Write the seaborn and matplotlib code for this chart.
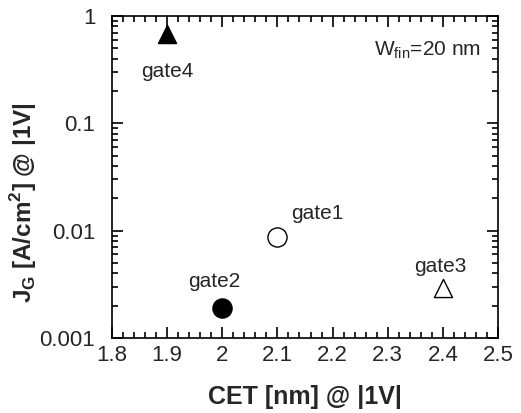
import seaborn as sns
import matplotlib.pyplot as plt
from matplotlib.ticker import FixedLocator, LogLocator, MultipleLocator, FuncFormatter

# data
gates = ['gate1', 'gate2', 'gate3', 'gate4']
cet = [2.1, 2.0, 2.4, 1.9]
jg = [0.0088, 0.0019, 0.0029, 0.68]
markers = ['o', 'o', '^', '^']
filled = [False, True, False, True]
label_offsets = [(29, 17), (-6, 19), (-2, 16), (0, -27)]  # points, text placement
x_ticks = [1.8, 1.9, 2.0, 2.1, 2.2, 2.3, 2.4, 2.5]
y_ticks = [0.001, 0.01, 0.1, 1]

sns.set_style('ticks')
plt.rcParams['font.family'] = ['Liberation Sans', 'DejaVu Sans']
plt.rcParams['mathtext.fontset'] = 'custom'
plt.rcParams['mathtext.rm'] = 'Liberation Sans'
plt.rcParams['mathtext.bf'] = 'Liberation Sans:bold'

fig = plt.figure(figsize=(5.21, 4.13), dpi=100, facecolor='w')
ax = fig.add_axes([112 / 521, 1 - 338 / 413, (498 - 112) / 521, (338 - 16) / 413])

for i in range(len(gates)):
    size = 190 if markers[i] == 'o' else 170
    sns.scatterplot(x=[cet[i]], y=[jg[i]], marker=markers[i], s=size,
                    color='black' if filled[i] else 'white',
                    edgecolor='black', linewidth=1.0, ax=ax, zorder=3)
    ax.annotate(gates[i], (cet[i], jg[i]), xytext=label_offsets[i],
                textcoords='offset points', ha='center', va='center',
                fontsize=15)

ax.text(0.955, 0.894, r'W$_\mathrm{fin}$=20 nm', transform=ax.transAxes,
        ha='right', va='center', fontsize=15)

ax.set_yscale('log')
ax.set_xlim(1.8, 2.5)
ax.set_ylim(0.001, 1)
ax.xaxis.set_major_locator(FixedLocator(x_ticks))
ax.xaxis.set_minor_locator(MultipleLocator(0.02))
ax.xaxis.set_major_formatter(FuncFormatter(lambda v, p: '{:g}'.format(v)))
ax.yaxis.set_major_locator(FixedLocator(y_ticks))
ax.yaxis.set_minor_locator(LogLocator(base=10, subs=range(2, 10)))
ax.yaxis.set_major_formatter(FuncFormatter(lambda v, p: '{:g}'.format(v)))

ax.tick_params(which='both', direction='in', top=True, right=True,
               labelsize=16, color='black', width=1.2)
ax.tick_params(axis='x', which='major', length=8, pad=5)
ax.tick_params(axis='y', which='major', length=8, pad=12)
ax.tick_params(which='minor', length=4)
for s in ax.spines.values():
    s.set_color('black')
    s.set_linewidth(1.2)

ax.set_xlabel('CET [nm] @ |1V|', fontsize=18, fontweight='bold', labelpad=14)
ax.set_ylabel(r'J$_\mathbf{G}$ [A/cm$^\mathbf{2}$] @ |1V|', fontsize=17.5,
              fontweight='bold')
ax.yaxis.set_label_coords(-0.19, 0.42)

fig.savefig('out.png', dpi=100)
plt.close(fig)
